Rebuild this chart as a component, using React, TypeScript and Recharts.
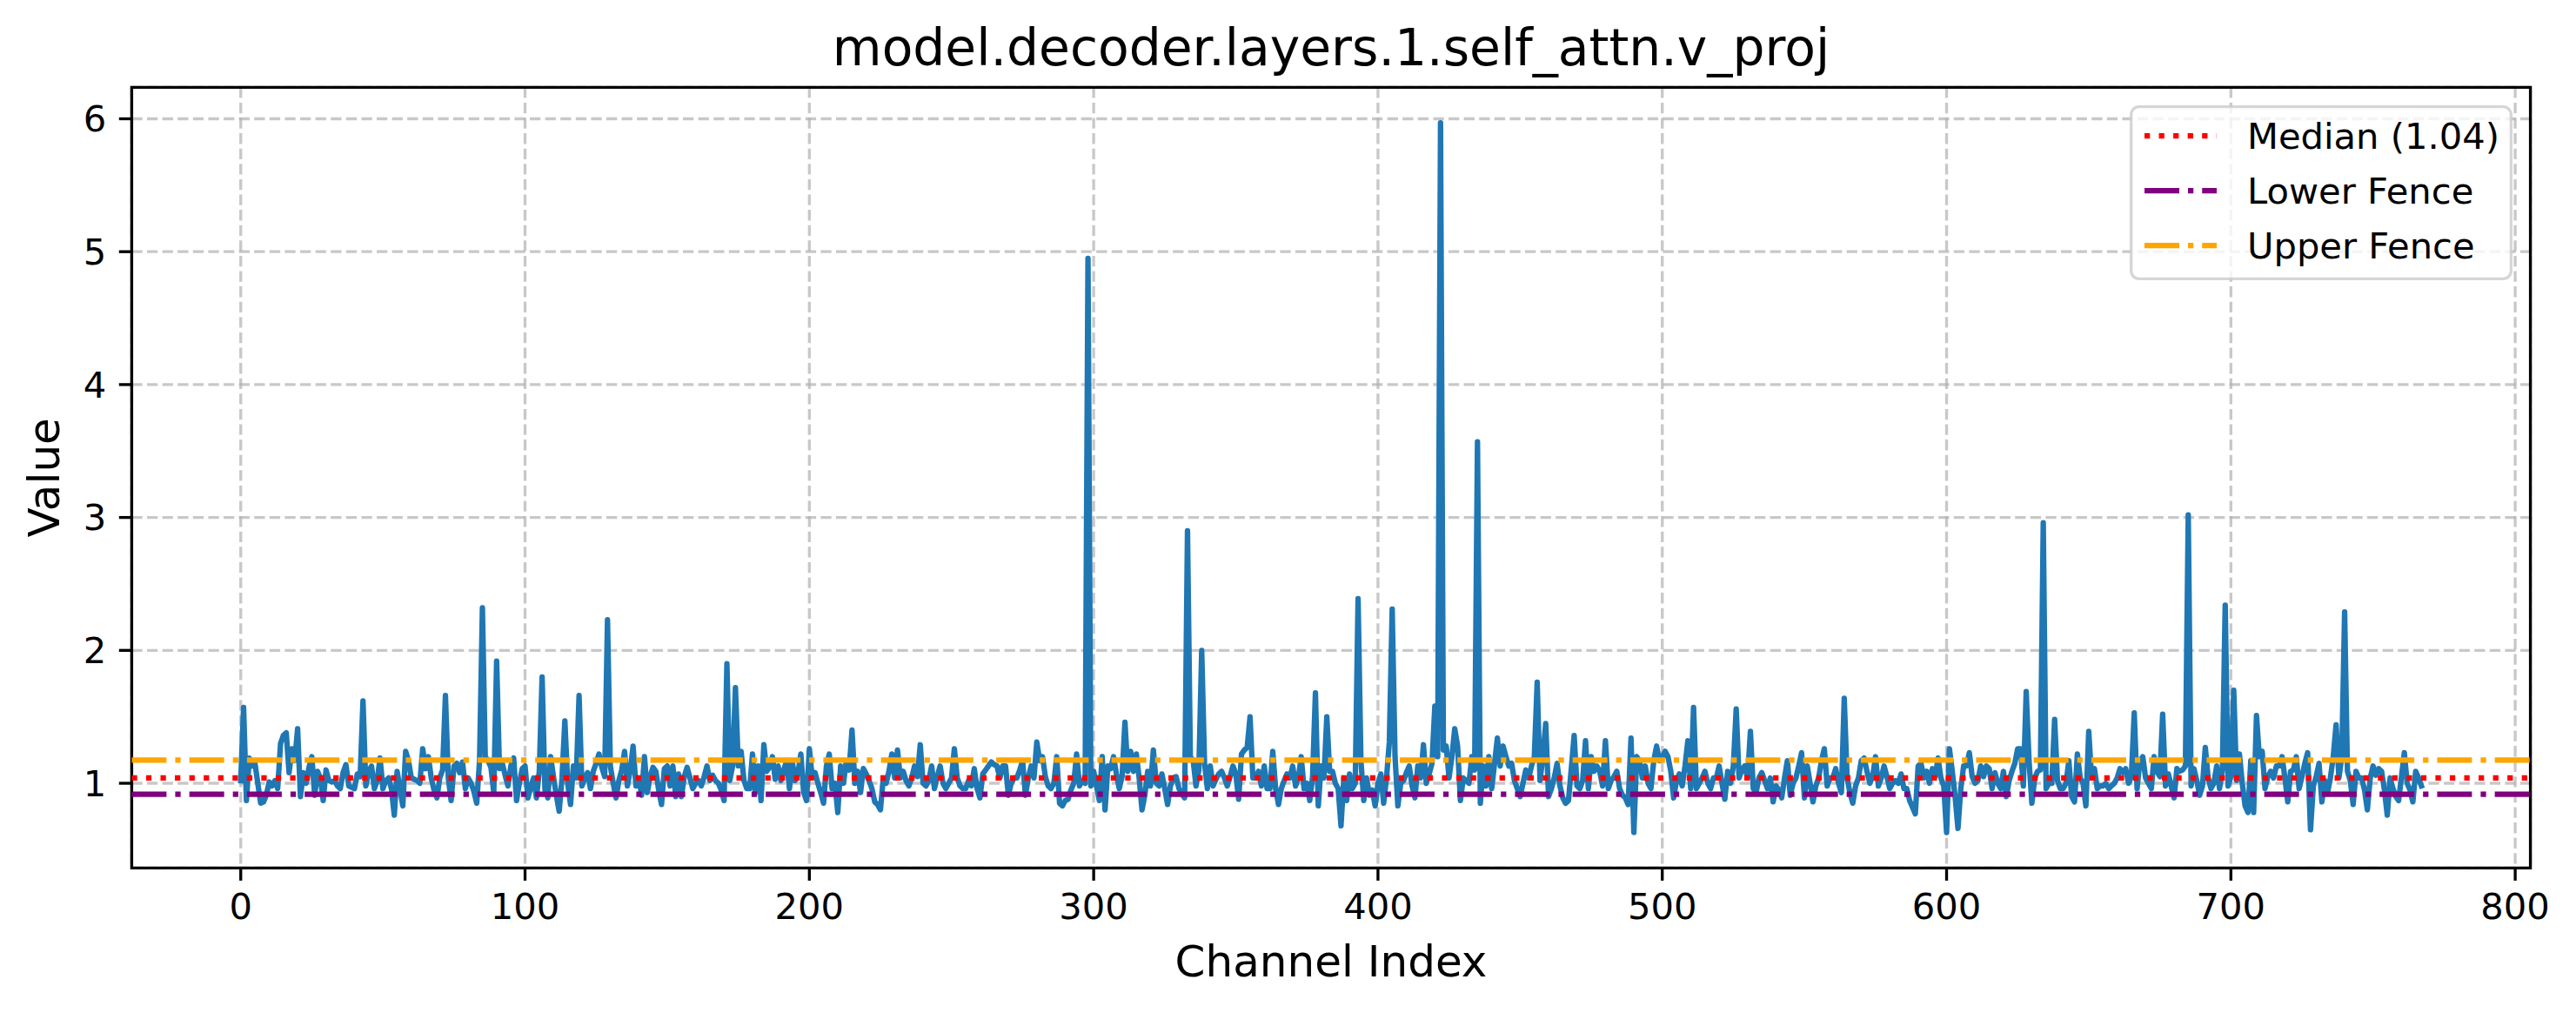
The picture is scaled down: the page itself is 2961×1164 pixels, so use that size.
import React from 'react';
import {
  LineChart,
  Line,
  XAxis,
  YAxis,
  CartesianGrid,
  ReferenceLine,
  ReferenceArea,
  Legend,
  Customized
} from 'recharts';

// Per-channel values (channels 0..767)
const channelValues: number[] = [
  1.02, 1.57, 0.87, 1.19, 1.13, 1.15, 1.00, 0.85, 0.86, 0.91,
  1.01, 0.98, 1.02, 0.96, 1.30, 1.36, 1.38, 1.08, 1.26, 1.17,
  1.41, 0.90, 1.08, 1.00, 1.12, 1.20, 0.91, 1.09, 1.04, 0.87,
  1.10, 1.02, 1.01, 1.02, 0.98, 0.96, 1.08, 1.14, 0.98, 0.97,
  0.96, 1.07, 1.05, 1.62, 0.98, 1.09, 1.13, 0.96, 1.02, 1.19,
  0.96, 1.02, 1.04, 0.96, 0.76, 1.09, 0.96, 0.83, 1.24, 1.17,
  1.04, 1.03, 1.02, 1.00, 1.26, 1.11, 1.20, 1.04, 0.95, 0.89,
  1.04, 1.10, 1.66, 1.04, 0.87, 1.13, 1.15, 1.08, 1.16, 0.96,
  1.04, 1.00, 0.94, 0.85, 1.17, 2.32, 1.20, 1.17, 1.12, 0.93,
  1.92, 1.11, 1.15, 1.06, 0.98, 1.13, 1.19, 0.87, 1.00, 1.11,
  1.13, 0.89, 0.97, 1.04, 0.89, 1.09, 1.80, 0.95, 0.89, 1.20,
  1.05, 0.91, 0.79, 1.04, 1.47, 1.00, 0.84, 1.13, 1.04, 1.66,
  0.98, 1.04, 1.08, 0.96, 1.09, 1.15, 1.22, 1.12, 1.05, 2.23,
  1.13, 1.00, 0.89, 1.02, 1.10, 1.24, 0.98, 1.10, 1.28, 0.98,
  1.04, 0.91, 1.20, 0.93, 1.05, 1.12, 1.09, 0.95, 0.84, 1.11,
  1.13, 0.98, 1.13, 0.90, 1.07, 0.90, 1.05, 1.12, 1.04, 0.96,
  1.00, 1.02, 0.98, 1.05, 1.13, 1.02, 1.06, 1.02, 1.00, 0.95,
  0.87, 1.90, 1.02, 1.13, 1.72, 1.13, 1.24, 1.02, 0.96, 0.96,
  1.22, 0.93, 1.13, 0.87, 1.29, 1.09, 1.12, 1.20, 1.03, 1.13,
  1.02, 1.10, 1.17, 0.96, 1.16, 1.02, 1.08, 1.22, 0.93, 0.87,
  1.26, 1.04, 1.08, 1.00, 0.93, 0.85, 1.13, 1.22, 0.96, 1.00,
  0.78, 1.13, 1.00, 1.17, 1.10, 1.40, 1.00, 1.09, 0.93, 1.11,
  1.07, 1.02, 0.96, 0.86, 0.84, 0.80, 1.04, 1.00, 1.09, 1.22,
  1.04, 1.25, 1.04, 1.09, 1.02, 0.98, 1.04, 1.13, 1.05, 1.29,
  1.00, 0.98, 1.02, 1.13, 0.96, 1.05, 1.13, 1.00, 0.96, 1.00,
  1.04, 1.26, 1.04, 0.98, 0.96, 0.96, 1.02, 0.98, 1.11, 0.96,
  0.89, 1.07, 1.10, 1.13, 1.16, 1.14, 1.13, 1.04, 1.13, 1.13,
  0.91, 1.00, 1.04, 1.04, 1.10, 1.17, 0.91, 1.04, 1.13, 1.04,
  1.31, 1.17, 1.20, 1.05, 0.98, 0.96, 1.00, 1.20, 0.85, 0.83,
  0.87, 0.88, 0.95, 1.00, 1.22, 0.98, 1.02, 1.00, 4.95, 0.98,
  1.09, 0.98, 0.87, 1.20, 0.80, 1.13, 1.11, 1.20, 1.07, 0.96,
  1.05, 1.46, 1.09, 1.24, 1.09, 1.22, 1.04, 0.80, 0.91, 1.09,
  0.98, 1.25, 1.00, 0.98, 1.07, 0.96, 0.84, 0.98, 1.04, 1.05,
  0.96, 0.92, 0.89, 2.90, 1.20, 1.17, 0.98, 1.10, 2.00, 1.15,
  0.96, 1.13, 0.98, 1.03, 1.07, 1.09, 1.04, 0.98, 1.05, 1.13,
  1.07, 0.88, 1.22, 1.25, 1.27, 1.50, 1.04, 1.04, 1.09, 0.98,
  1.13, 0.96, 0.96, 1.24, 0.96, 0.84, 0.96, 1.02, 1.07, 1.04,
  1.13, 0.98, 1.04, 1.20, 0.96, 1.00, 0.87, 1.05, 1.68, 0.83,
  1.13, 1.04, 1.50, 1.09, 1.09, 1.00, 0.96, 0.68, 1.04, 0.87,
  1.07, 0.96, 1.00, 2.39, 1.17, 0.87, 1.04, 0.91, 0.95, 0.83,
  1.00, 1.07, 0.85, 1.04, 1.31, 2.31, 1.20, 0.83, 1.00, 1.02,
  1.08, 1.13, 0.98, 0.89, 1.13, 1.04, 1.29, 1.00, 1.07, 1.15,
  1.58, 1.20, 5.97, 1.25, 1.28, 1.04, 1.20, 1.41, 1.28, 0.87,
  1.04, 1.02, 1.00, 1.20, 1.10, 3.57, 0.85, 1.13, 0.98, 1.20,
  0.96, 1.15, 1.34, 1.13, 1.28, 1.20, 1.13, 1.15, 1.02, 0.96,
  0.90, 1.00, 1.10, 1.04, 1.13, 1.20, 1.76, 1.02, 1.20, 1.45,
  0.90, 0.96, 1.04, 1.15, 0.98, 0.89, 0.85, 0.87, 1.11, 1.36,
  0.98, 0.96, 1.02, 1.32, 0.96, 1.20, 1.09, 1.13, 1.09, 0.98,
  1.32, 0.96, 1.02, 1.05, 1.09, 0.96, 0.91, 0.89, 0.84, 1.34,
  0.63, 1.20, 1.17, 1.04, 1.13, 1.00, 0.96, 1.17, 1.28, 1.17,
  1.20, 1.24, 1.20, 1.09, 0.89, 1.02, 1.07, 0.98, 1.13, 1.32,
  0.96, 1.57, 0.96, 1.00, 1.04, 1.09, 1.00, 0.96, 1.04, 1.04,
  1.13, 1.00, 0.88, 1.09, 1.00, 1.13, 1.56, 1.04, 1.10, 1.13,
  1.04, 1.39, 0.96, 0.93, 1.04, 1.08, 1.02, 0.96, 1.04, 0.86,
  0.98, 0.95, 0.89, 1.04, 1.17, 0.91, 1.00, 1.04, 1.13, 1.23,
  0.89, 1.13, 1.00, 0.86, 0.98, 1.04, 1.17, 1.26, 0.98, 1.04,
  1.04, 1.11, 1.00, 0.93, 1.64, 1.04, 0.93, 0.85, 0.98, 1.04,
  1.17, 1.19, 1.09, 1.00, 1.05, 1.20, 0.98, 1.04, 1.13, 1.05,
  0.96, 1.00, 1.02, 1.00, 1.07, 0.96, 0.96, 0.87, 0.82, 0.77,
  1.13, 1.15, 1.04, 1.09, 1.00, 1.11, 1.05, 1.19, 1.04, 0.98,
  0.63, 1.26, 1.09, 0.90, 0.66, 0.96, 1.13, 1.13, 1.23, 1.05,
  1.00, 1.02, 1.13, 1.05, 1.13, 1.11, 0.96, 1.08, 1.00, 0.96,
  1.09, 0.90, 1.02, 1.09, 1.15, 1.26, 1.26, 0.98, 1.69, 1.17,
  0.85, 1.04, 1.09, 1.10, 2.96, 0.96, 1.00, 1.00, 1.48, 1.02,
  0.96, 0.96, 1.00, 1.17, 0.90, 0.86, 1.22, 1.04, 1.00, 0.83,
  1.39, 1.04, 1.11, 0.96, 0.98, 0.98, 1.00, 0.96, 0.98, 1.00,
  1.04, 1.11, 1.08, 1.11, 1.00, 1.05, 1.53, 0.96, 1.17, 1.20,
  1.04, 1.00, 0.96, 1.20, 1.09, 1.05, 1.52, 0.98, 1.07, 0.98,
  0.89, 1.11, 1.09, 1.10, 1.13, 3.02, 0.98, 1.11, 1.02, 0.91,
  0.98, 1.27, 1.04, 0.96, 1.00, 1.13, 0.96, 1.10, 2.34, 0.98,
  1.05, 1.70, 1.02, 1.22, 1.00, 0.83, 0.78, 1.17, 0.78, 1.51,
  1.20, 1.24, 0.96, 1.05, 1.09, 1.04, 1.13, 1.13, 1.20, 1.04,
  0.86, 1.09, 1.10, 1.20, 0.96, 1.05, 1.15, 1.23, 0.65, 0.98,
  1.05, 1.15, 0.86, 1.02, 0.93, 1.04, 1.20, 1.44, 1.04, 1.20,
  2.29, 1.09, 1.02, 0.84, 1.09, 1.04, 1.04, 0.95, 0.80, 1.04,
  1.13, 1.06, 1.11, 1.09, 0.95, 0.76, 1.04, 0.96, 0.90, 0.87,
  1.05, 1.23, 1.00, 0.95, 0.86, 1.09, 1.04, 0.98
];

const MEDIAN = 1.04;
const LOWER_FENCE = 0.917;
const UPPER_FENCE = 1.174;

const xTicks = [0, 100, 200, 300, 400, 500, 600, 700, 800];
const yTicks = [1, 2, 3, 4, 5, 6];
const legendLabels = ['Median (1.04)', 'Lower Fence', 'Upper Fence'];

const TITLE = 'model.decoder.layers.1.self_attn.v_proj';
const X_LABEL = 'Channel Index';
const Y_LABEL = 'Value';

const data = channelValues.map((value, channel) => ({ channel, value }));

// matplotlib-like 5% margins around the data
const lastChannel = channelValues.length - 1;
const xMin = -lastChannel * 0.05;
const xMax = lastChannel * 1.05;
const vMin = Math.min(...channelValues);
const vMax = Math.max(...channelValues);
const yMin = vMin - (vMax - vMin) * 0.05;
const yMax = vMax + (vMax - vMin) * 0.05;

const FONT = 'DejaVu Sans';
const LW = 6.25; // 1.5pt at 300 dpi
const SPINE = 3.33;

const fenceStyles = [
  { color: '#ff0000', dash: '6.25 10.3' },
  { color: '#800080', dash: '40 10 6.25 10' },
  { color: '#ffa500', dash: '40 10 6.25 10' }
];

const W = 2945;
const H = 1150;

const FenceLegend = () => (
  <svg width={440} height={201} style={{ display: 'block' }}>
    <rect
      x={1.67}
      y={1.67}
      width={436.7}
      height={197.7}
      rx={9}
      fill="#ffffff"
      fillOpacity={0.8}
      stroke="#cccccc"
      strokeOpacity={0.8}
      strokeWidth={3.33}
    />
    {legendLabels.map((label, i) => {
      const y = 35 + i * 63;
      return (
        <g key={label}>
          <line
            x1={17}
            x2={100}
            y1={y}
            y2={y}
            stroke={fenceStyles[i].color}
            strokeWidth={LW}
            strokeDasharray={fenceStyles[i].dash}
          />
          <text x={135} y={y + 15} fontFamily={FONT} fontSize={41.67} fill="#000">
            {label}
          </text>
        </g>
      );
    })}
  </svg>
);

const ChartText = () => (
  <g fontFamily={FONT} fill="#000">
    <text x={1522} y={67.3} textAnchor="middle" fontSize={58.33}>
      {TITLE}
    </text>
    <text x={1522} y={1113.6} textAnchor="middle" fontSize={50}>
      {X_LABEL}
    </text>
    <text x={60} y={540.8} transform="rotate(-90 60 540.8)" textAnchor="middle" fontSize={50}>
      {Y_LABEL}
    </text>
  </g>
);

const tickStyle = { fill: '#000', fontSize: 41.67, fontFamily: FONT };

export default function App() {
  return (
    <div style={{ width: W, height: H }}>
      <LineChart
        width={W}
        height={H}
        data={data}
        margin={{ top: 92.3, right: 44.4, left: 23.4, bottom: 100.7 }}
      >
        <CartesianGrid
          stroke="#b0b0b0"
          strokeOpacity={0.7}
          strokeWidth={3.33}
          strokeDasharray="12.3 5.3"
        />
        <XAxis
          dataKey="channel"
          type="number"
          domain={[xMin, xMax]}
          ticks={xTicks}
          interval={0}
          allowDataOverflow
          height={60}
          axisLine={false}
          tickLine={{ stroke: '#000', strokeWidth: SPINE }}
          tickSize={14.6}
          tickMargin={14.6}
          tick={tickStyle}
        />
        <YAxis
          type="number"
          domain={[yMin, yMax]}
          ticks={yTicks}
          interval={0}
          allowDataOverflow
          width={120}
          axisLine={false}
          tickLine={{ stroke: '#000', strokeWidth: SPINE }}
          tickSize={14.6}
          tickMargin={14.6}
          tick={tickStyle}
        />
        <ReferenceArea
          x1={xMin}
          x2={xMax}
          y1={yMin}
          y2={yMax}
          ifOverflow="visible"
          fill="none"
          fillOpacity={0}
          stroke="#000"
          strokeWidth={SPINE}
          strokeOpacity={1}
        />
        <Line
          type="linear"
          dataKey="value"
          stroke="#1f77b4"
          strokeWidth={LW}
          strokeLinejoin="round"
          strokeLinecap="square"
          dot={false}
          activeDot={false}
          isAnimationActive={false}
        />
        <ReferenceLine
          y={MEDIAN}
          stroke={fenceStyles[0].color}
          strokeWidth={LW}
          strokeDasharray={fenceStyles[0].dash}
          zIndex={500}
        />
        <ReferenceLine
          y={LOWER_FENCE}
          stroke={fenceStyles[1].color}
          strokeWidth={LW}
          strokeDasharray={fenceStyles[1].dash}
          zIndex={500}
        />
        <ReferenceLine
          y={UPPER_FENCE}
          stroke={fenceStyles[2].color}
          strokeWidth={LW}
          strokeDasharray={fenceStyles[2].dash}
          zIndex={500}
        />
        <Legend
          layout="horizontal"
          verticalAlign="middle"
          align="center"
          wrapperStyle={{ left: 2440, top: 113, width: 440, height: 201 }}
          content={() => <FenceLegend />}
        />
        <Customized component={ChartText} />
      </LineChart>
    </div>
  );
}
